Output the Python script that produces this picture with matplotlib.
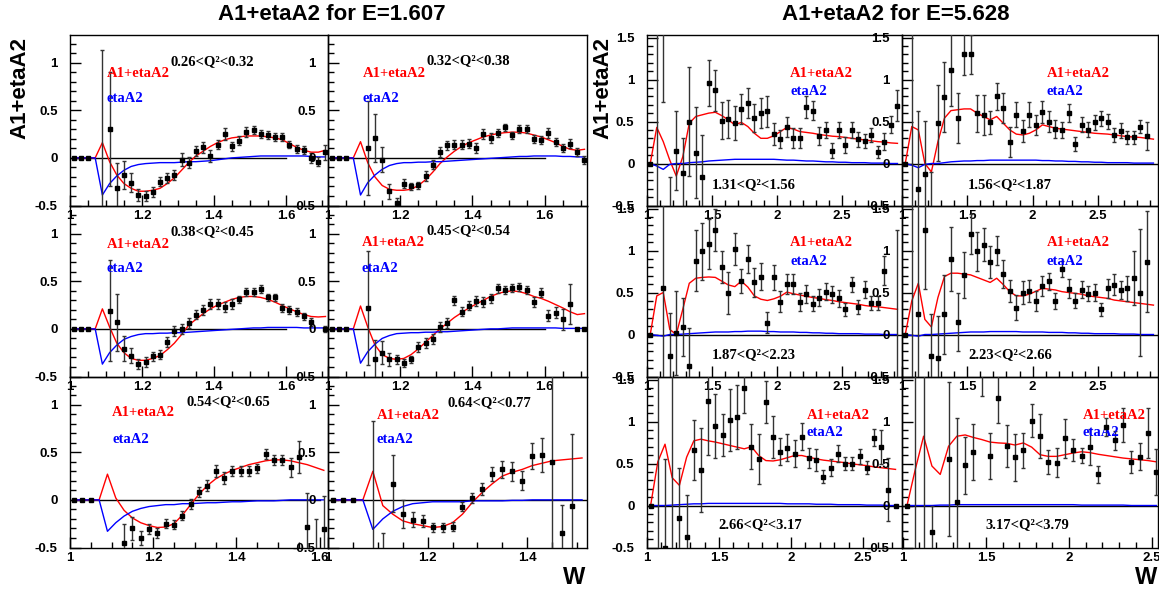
import numpy as np
import matplotlib.pyplot as plt
from matplotlib.ticker import MultipleLocator, FormatStrFormatter

plt.rcParams['font.family'] = 'Liberation Sans'
plt.rcParams['font.weight'] = 'bold'
plt.rcParams['axes.unicode_minus'] = False

nan = np.nan

# W bin centres
w_low = np.round(np.arange(1.01, 1.715, 0.02), 3)     # E = 1.607 binning
w_high = np.round(np.arange(1.025, 2.93, 0.05), 3)    # E = 5.628 binning

# ---------------- E = 1.607 ----------------
y_026 = [0, 0, 0, nan, -0.87, 0.30, -0.32, -0.18, -0.26, -0.39,
         -0.40, -0.36, -0.25, -0.21, -0.18, -0.02, -0.05, 0.07, 0.11, 0.02,
         0.14, 0.25, 0.12, 0.18, 0.27, 0.29, 0.25, 0.24, 0.22, 0.22,
         0.14, 0.09, 0.08, 0.00, -0.04, 0.06]
e_026 = [0, 0, 0, 0, 2.0, 0.60, 0.27, 0.15, 0.10, 0.06,
         0.05, 0.05, 0.05, 0.05, 0.05, 0.07, 0.06, 0.05, 0.06, 0.06,
         0.05, 0.06, 0.05, 0.05, 0.05, 0.04, 0.04, 0.04, 0.04, 0.04,
         0.04, 0.04, 0.04, 0.05, 0.05, 0.08]
fit_026 = [0, 0, 0, 0, 0.16, -0.04, -0.18, -0.27, -0.32, -0.35,
           -0.35, -0.34, -0.32, -0.27, -0.21, -0.13, -0.05, 0.02, 0.07, 0.12,
           0.16, 0.19, 0.21, 0.22, 0.23, 0.23, 0.23, 0.22, 0.21, 0.19,
           0.15, 0.11, 0.08, 0.06, 0.06, 0.08]
eta_026 = [0, 0, 0, 0, -0.39, -0.27, -0.19, -0.13, -0.09, -0.07,
           -0.06, -0.055, -0.05, -0.05, -0.05, -0.045, -0.04, -0.04, -0.035, -0.03,
           -0.02, -0.01, 0.0, 0.005, 0.01, 0.015, 0.02, 0.02, 0.02, 0.02,
           0.02, 0.02, 0.02, 0.015, 0.01, 0.01]

y_032 = [0, 0, 0, nan, nan, 0.105, 0.21, -0.02, -0.35, -0.47,
         -0.27, -0.30, -0.29, -0.19, -0.07, 0.06, 0.13, 0.14, 0.14, 0.15,
         0.105, 0.25, 0.21, 0.26, 0.32, 0.235, 0.305, 0.30, 0.20, 0.19,
         0.26, 0.165, 0.105, 0.15, 0.06, -0.02]
e_032 = [0, 0, 0, 0, 0, 0.49, 0.25, 0.13, 0.08, 0.05,
         0.05, 0.04, 0.04, 0.05, 0.05, 0.05, 0.05, 0.05, 0.05, 0.05,
         0.05, 0.05, 0.05, 0.04, 0.04, 0.04, 0.04, 0.04, 0.04, 0.04,
         0.05, 0.04, 0.04, 0.05, 0.04, 0.04]
fit_032 = [0, 0, 0, 0, 0.17, -0.05, -0.20, -0.29, -0.33, -0.34,
           -0.34, -0.33, -0.29, -0.23, -0.15, -0.06, 0.01, 0.07, 0.12, 0.16,
           0.19, 0.22, 0.24, 0.255, 0.265, 0.27, 0.27, 0.26, 0.24, 0.22,
           0.19, 0.16, 0.12, 0.09, 0.08, 0.09]
eta_032 = [0, 0, 0, 0, -0.39, -0.26, -0.18, -0.12, -0.08, -0.06,
           -0.05, -0.05, -0.045, -0.045, -0.04, -0.04, -0.035, -0.03, -0.025, -0.02,
           -0.015, -0.01, -0.005, 0.0, 0.005, 0.01, 0.015, 0.015, 0.02, 0.02,
           0.02, 0.02, 0.015, 0.015, 0.01, 0.01]

y_038 = [0, 0, 0, nan, nan, 0.19, 0.07, -0.21, -0.28, -0.37,
         -0.35, -0.29, -0.27, -0.14, -0.025, 0.0, 0.06, 0.15, 0.20, 0.26,
         0.26, 0.23, 0.26, 0.31, 0.39, 0.39, 0.42, 0.33, 0.33, 0.22,
         0.20, 0.175, 0.13, 0.07, nan, 0.0]
e_038 = [0, 0, 0, 0, 0, 0.53, 0.30, 0.13, 0.08, 0.05,
         0.05, 0.05, 0.05, 0.05, 0.05, 0.05, 0.05, 0.05, 0.05, 0.05,
         0.05, 0.05, 0.05, 0.04, 0.04, 0.04, 0.04, 0.04, 0.04, 0.04,
         0.04, 0.04, 0.04, 0.04, 0, 0.03]
fit_038 = [0, 0, 0, 0, 0.21, 0.02, -0.15, -0.25, -0.31, -0.33,
           -0.33, -0.31, -0.28, -0.22, -0.15, -0.06, 0.04, 0.10, 0.16, 0.21,
           0.25, 0.28, 0.31, 0.33, 0.34, 0.34, 0.33, 0.31, 0.28, 0.245,
           0.21, 0.18, 0.15, 0.13, 0.125, 0.13]
eta_038 = [0, 0, 0, 0, -0.37, -0.25, -0.17, -0.11, -0.08, -0.06,
           -0.05, -0.05, -0.045, -0.045, -0.04, -0.04, -0.035, -0.03, -0.025, -0.02,
           -0.015, -0.01, -0.005, 0.0, 0.005, 0.01, 0.01, 0.015, 0.015, 0.015,
           0.015, 0.015, 0.01, 0.01, 0.01, 0.01]

y_045 = [0, 0, 0, nan, nan, 0.22, -0.32, -0.25, -0.32, -0.32,
         -0.36, -0.32, -0.19, -0.15, -0.105, 0.02, 0.06, 0.30, 0.18, 0.245,
         0.29, 0.28, 0.32, 0.425, 0.41, 0.43, 0.44, 0.41, 0.28, 0.38,
         0.14, 0.17, 0.10, 0.26, 0.0, 0.0]
e_045 = [0, 0, 0, 0, 0, 0.6, 0.2, 0.12, 0.07, 0.05,
         0.04, 0.04, 0.05, 0.05, 0.05, 0.05, 0.05, 0.05, 0.05, 0.05,
         0.05, 0.05, 0.05, 0.05, 0.04, 0.04, 0.04, 0.04, 0.05, 0.05,
         0.06, 0.06, 0.11, 0.21, 0, 0]
fit_045 = [0, 0, 0, 0, 0.24, 0.02, -0.17, -0.27, -0.31, -0.32,
           -0.31, -0.27, -0.21, -0.14, -0.07, 0.0, 0.06, 0.12, 0.17, 0.22,
           0.26, 0.30, 0.34, 0.37, 0.39, 0.40, 0.39, 0.37, 0.34, 0.32,
           0.29, 0.255, 0.22, 0.18, 0.15, 0.16]
eta_045 = [0, 0, 0, 0, -0.36, -0.24, -0.16, -0.10, -0.07, -0.05,
           -0.045, -0.04, -0.04, -0.035, -0.035, -0.03, -0.03, -0.025, -0.02, -0.015,
           -0.01, -0.005, 0.0, 0.0, 0.005, 0.01, 0.01, 0.01, 0.01, 0.01,
           0.01, 0.01, 0.005, 0.005, 0.005, 0.005]

y_054 = [0, 0, 0, nan, nan, nan, -0.45, -0.30, -0.40, -0.305,
         -0.35, -0.25, -0.26, -0.165, -0.045, 0.08, 0.15, 0.305, 0.23, 0.305,
         0.305, 0.305, 0.33, 0.48, 0.42, 0.42, 0.34, 0.45, -0.28, -0.6,
         -0.31]
e_054 = [0, 0, 0, 0, 0, 0, 0.2, 0.12, 0.07, 0.05,
         0.05, 0.05, 0.05, 0.05, 0.05, 0.05, 0.06, 0.06, 0.06, 0.05,
         0.05, 0.05, 0.05, 0.05, 0.05, 0.05, 0.1, 0.17, 0.35, 0.4,
         0.35]
fit_054 = [0, 0, 0, 0, 0.27, 0.02, -0.11, -0.19, -0.24, -0.27,
           -0.29, -0.285, -0.25, -0.16, -0.05, 0.06, 0.15, 0.22, 0.27, 0.31,
           0.34, 0.37, 0.39, 0.41, 0.42, 0.42, 0.41, 0.39, 0.37, 0.34,
           0.31]
eta_054 = [0, 0, 0, 0, -0.33, -0.24, -0.17, -0.12, -0.09, -0.07,
           -0.06, -0.05, -0.05, -0.04, -0.04, -0.035, -0.03, -0.03, -0.025, -0.02,
           -0.02, -0.015, -0.01, -0.01, -0.01, -0.005, 0, 0, 0, 0,
           0]

y_064 = [0, 0, 0, nan, -0.6, -0.7, 0.17, -0.15, -0.21, -0.22,
         -0.29, -0.29, -0.28, -0.07, 0.02, 0.115, 0.27, 0.32, 0.30, 0.20,
         0.46, 0.47, 0.40, -0.35, -0.06, nan]
e_064 = [0, 0, 0, 0, 1.43, 0.35, 0.3, 0.15, 0.08, 0.06,
         0.05, 0.05, 0.05, 0.05, 0.05, 0.06, 0.07, 0.09, 0.1, 0.1,
         0.14, 0.18, 1.5, 0.3, 0.75, 0]
fit_064 = [0, 0, 0, 0, 0.30, -0.06, -0.15, -0.22, -0.25, -0.27,
           -0.29, -0.28, -0.24, -0.15, -0.025, 0.08, 0.17, 0.25, 0.29, 0.32,
           0.36, 0.385, 0.41, 0.42, 0.43, 0.44]
eta_064 = [0, 0, 0, 0, -0.31, -0.20, -0.12, -0.07, -0.04, -0.03,
           -0.02, -0.02, -0.02, -0.02, -0.01, -0.01, -0.01, -0.01, -0.005, -0.005,
           0, 0, 0, 0, 0, 0]

# ---------------- E = 5.628 ----------------
y_131 = [0, -2.5, 2.0, -1.0, 0.15, -0.11, 0.50, 0.13, -0.16, 0.96,
         0.87, 0.51, 0.53, 0.48, 0.65, 0.72, 0.54, 0.60, 0.62, 0.35,
         0.29, 0.43, 0.30, 0.30, 0.67, 0.63, 0.33, 0.40, 0.15, 0.40,
         0.22, 0.40, 0.29, 0.27, 0.34, 0.14, 0.26, 0.46, 0.69]
e_131 = [0, 5, 1.27, 0.84, 0.47, 0.41, 0.65, 0.54, 0.5, 0.27,
         0.24, 0.22, 0.23, 0.2, 0.18, 0.18, 0.17, 0.18, 0.18, 0.13,
         0.11, 0.12, 0.12, 0.12, 0.13, 0.11, 0.11, 0.1, 0.09, 0.1,
         0.09, 0.1, 0.09, 0.08, 0.08, 0.07, 0.1, 0.1, 0.18]
fit_131 = [0, 0.43, 0.26, 0.04, -0.15, 0.08, 0.48, 0.56, 0.58, 0.60,
           0.61, 0.57, 0.52, 0.46, 0.49, 0.44, 0.36, 0.30, 0.30, 0.33,
           0.38, 0.43, 0.41, 0.38, 0.37, 0.36, 0.345, 0.335, 0.325, 0.32,
           0.31, 0.30, 0.29, 0.28, 0.27, 0.26, 0.255, 0.245, 0.24]
eta_131 = [0, -0.03, -0.07, -0.01, 0, 0, 0.01, 0.015, 0.02, 0.03,
           0.035, 0.04, 0.045, 0.05, 0.05, 0.05, 0.05, 0.05, 0.05, 0.05,
           0.045, 0.04, 0.04, 0.035, 0.03, 0.03, 0.025, 0.02, 0.02, 0.015,
           0.015, 0.01, 0.01, 0.01, 0.005, 0.005, 0.005, 0, 0]

y_156 = [0, -2.5, -0.3, -0.12, -0.6, 0.48, 0.79, 1.11, 0.54, 1.30,
         1.30, 0.60, 0.58, 0.49, 0.80, 0.66, 0.26, 0.58, 0.385, 0.58,
         0.46, 0.61, 0.50, 0.41, 0.40, 0.60, 0.23, 0.46, 0.40, 0.49,
         0.54, 0.50, 0.34, 0.39, 0.31, 0.31, 0.44, 0.33, nan]
e_156 = [0, 5, 0.92, 0.63, 0.5, 0.45, 0.42, 0.43, 0.3, 0.25,
         0.23, 0.22, 0.24, 0.14, 0.16, 0.18, 0.18, 0.15, 0.13, 0.15,
         0.12, 0.13, 0.12, 0.11, 0.1, 0.11, 0.08, 0.09, 0.09, 0.09,
         0.09, 0.09, 0.08, 0.09, 0.08, 0.08, 0.08, 0.17, 0]
fit_156 = [0, 0.44, 0.40, 0.0, -0.10, 0.26, 0.54, 0.63, 0.64, 0.65,
           0.65, 0.60, 0.56, 0.52, 0.56, 0.48, 0.40, 0.35, 0.34, 0.36,
           0.40, 0.46, 0.44, 0.42, 0.41, 0.40, 0.39, 0.38, 0.37, 0.36,
           0.355, 0.35, 0.34, 0.33, 0.32, 0.315, 0.31, 0.30, 0.29]
eta_156 = [0, -0.02, -0.05, -0.01, 0, 0, 0.01, 0.02, 0.025, 0.03,
           0.03, 0.035, 0.035, 0.04, 0.04, 0.04, 0.04, 0.04, 0.04, 0.04,
           0.04, 0.035, 0.035, 0.03, 0.03, 0.025, 0.025, 0.02, 0.02, 0.015,
           0.015, 0.01, 0.01, 0.01, 0.01, 0.005, 0.005, 0.005, 0.005]

y_187 = [0, nan, 0.55, -0.26, 0.02, 0.09, -0.37, 0.88, 0.99, 1.08,
         1.24, 0.80, 0.50, 1.02, 0.635, 0.90, 0.62, 0.69, 0.14, 0.68,
         0.39, 0.60, 0.60, 0.39, 0.48, 0.365, 0.44, 0.51, 0.48, 0.43,
         0.30, 0.60, 0.325, 0.535, 0.375, 0.375, 0.76, nan, -0.6]
e_187 = [0, 0, 3.0, 0.52, 0.5, 0.35, 0.45, 0.36, 0.34, 0.3,
         0.25, 0.19, 0.25, 0.19, 0.14, 0.17, 0.17, 0.16, 0.125, 0.15,
         0.125, 0.12, 0.12, 0.11, 0.11, 0.09, 0.1, 0.1, 0.1, 0.1,
         0.08, 0.09, 0.085, 0.1, 0.08, 0.08, 0.17, 0, 1.85]
fit_187 = [0, 0.46, 0.50, 0.06, 0.0, 0.30, 0.61, 0.67, 0.68, 0.685,
           0.68, 0.635, 0.59, 0.57, 0.635, 0.565, 0.46, 0.42, 0.405, 0.425,
           0.455, 0.505, 0.485, 0.47, 0.455, 0.44, 0.43, 0.415, 0.405, 0.39,
           0.38, 0.37, 0.36, 0.345, 0.335, 0.33, 0.32, 0.31, 0.30]
eta_187 = [0, -0.01, -0.02, 0, 0, 0.005, 0.01, 0.015, 0.02, 0.025,
           0.03, 0.03, 0.03, 0.035, 0.035, 0.04, 0.04, 0.04, 0.035, 0.035,
           0.03, 0.03, 0.03, 0.025, 0.025, 0.02, 0.02, 0.015, 0.015, 0.01,
           0.01, 0.01, 0.01, 0.005, 0.005, 0.005, 0, 0, 0]

y_223 = [0, -2.5, 0.25, 1.24, -0.25, -0.28, 0.24, 0.90, 0.15, 0.71,
         1.20, 0.99, 1.07, 0.865, 1.00, 0.72, 0.52, 0.32, 0.50, 0.52,
         0.40, 0.575, 0.635, 0.40, 0.78, 0.545, 0.40, 0.535, 0.485, 0.50,
         0.30, 0.55, 0.595, 0.53, 0.55, 0.675, 0.50, 0.865, nan]
e_223 = [0, 5, 2.0, 0.7, 0.5, 0.5, 0.47, 0.38, 0.35, 0.27,
         0.24, 0.23, 0.2, 0.19, 0.17, 0.17, 0.13, 0.145, 0.14, 0.13,
         0.12, 0.12, 0.1, 0.1, 0.1, 0.11, 0.09, 0.1, 0.09, 0.1,
         0.08, 0.11, 0.12, 0.11, 0.15, 0.32, 0.76, 0.6, 0]
fit_223 = [0, 0.40, 0.61, 0.18, 0.09, 0.44, 0.69, 0.73, 0.73, 0.72,
           0.71, 0.68, 0.65, 0.62, 0.67, 0.595, 0.51, 0.46, 0.46, 0.48,
           0.515, 0.55, 0.54, 0.53, 0.51, 0.50, 0.49, 0.48, 0.46, 0.45,
           0.44, 0.43, 0.41, 0.40, 0.39, 0.38, 0.37, 0.36, 0.35]
eta_223 = [0, -0.01, -0.02, 0, 0, 0.005, 0.01, 0.015, 0.02, 0.025,
           0.03, 0.03, 0.03, 0.035, 0.035, 0.035, 0.035, 0.035, 0.03, 0.03,
           0.03, 0.03, 0.025, 0.025, 0.025, 0.02, 0.02, 0.015, 0.015, 0.01,
           0.01, 0.01, 0.01, 0.005, 0.005, 0.005, 0, 0, 0]

y_266 = [0, -2.5, -0.5, -2.5, -0.15, -0.37, 0.66, 0.42, 1.25, 0.95,
         0.845, 1.02, 1.05, 1.40, 0.70, 0.555, 1.23, 0.81, 0.64, 0.69,
         0.615, 0.82, 0.57, 0.54, 0.345, 0.45, 0.615, 0.50, 0.50, 0.585,
         0.45, 0.805, 0.695, 0.19, 0.0]
e_266 = [0, 5, 1.05, 5, 0.6, 0.5, 0.36, 0.5, 0.65, 0.38,
         0.25, 0.37, 0.38, 0.3, 0.27, 0.3, 0.25, 0.25, 0.16, 0.16,
         0.16, 0.16, 0.12, 0.13, 0.08, 0.1, 0.1, 0.08, 0.08, 0.09,
         0.08, 0.1, 0.2, 0.38, 0]
fit_266 = [0, 0.52, 0.73, 0.33, 0.24, 0.575, 0.77, 0.79, 0.77, 0.755,
           0.735, 0.715, 0.695, 0.675, 0.70, 0.595, 0.535, 0.53, 0.545, 0.57,
           0.595, 0.595, 0.575, 0.555, 0.54, 0.53, 0.52, 0.51, 0.495, 0.485,
           0.475, 0.46, 0.45, 0.44, 0.43]
eta_266 = [0, 0, 0, 0.005, 0.01, 0.015, 0.02, 0.02, 0.025, 0.025,
           0.025, 0.025, 0.025, 0.025, 0.025, 0.025, 0.025, 0.025, 0.025, 0.02,
           0.02, 0.02, 0.02, 0.015, 0.015, 0.015, 0.01, 0.01, 0.01, 0.01,
           0.005, 0.005, 0.005, 0, 0]

y_317 = [0, -2.5, -2.5, -0.31, nan, 0.555, 0.04, 0.48, 0.635, 1.7,
         0.59, 1.28, 0.71, 0.575, 0.655, 1.01, 0.83, 0.515, 0.51, 0.80,
         0.66, 0.595, 0.695, 0.37, 0.935, 0.775, 0.955, 0.515, 0.58, 0.865,
         0.40]
e_317 = [0, 5, 5, 0.3, 0, 0.92, 1.0, 0.34, 0.33, 0.4,
         0.27, 0.3, 0.25, 0.28, 0.21, 0.2, 0.26, 0.14, 0.17, 0.23,
         0.13, 0.09, 0.21, 0.1, 0.11, 0.11, 0.2, 0.13, 0.16, 0.3,
         0.27]
fit_317 = [0, 0.43, 0.825, 0.47, 0.37, 0.705, 0.825, 0.84, 0.81, 0.785,
           0.755, 0.745, 0.74, 0.72, 0.745, 0.695, 0.605, 0.585, 0.585, 0.605,
           0.625, 0.64, 0.63, 0.61, 0.595, 0.58, 0.565, 0.555, 0.545, 0.535,
           0.52]
eta_317 = [0, 0, 0, 0, 0.005, 0.005, 0.01, 0.01, 0.01, 0.01,
           0.01, 0.01, 0.01, 0.01, 0.01, 0.01, 0.01, 0.01, 0.01, 0.01,
           0.01, 0.005, 0.005, 0.005, 0.005, 0.005, 0.005, 0, 0, 0,
           0]

FW, FH = 1159, 594
fig = plt.figure(figsize=(FW / 100, FH / 100), dpi=100)

ROWS = [35, 206, 377]
ROW_H = 170.5


def make_axes(x0, y0, w):
    return fig.add_axes([x0 / FW, 1 - (y0 + ROW_H) / FH, w / FW, ROW_H / FH])


def draw(ax, w, y, e, fit, eta, qlab, xlim, ylim, xmaj, xmin, zero_end,
         tx, ty_red, ty_blue, qx, qy):
    ax.set_facecolor('none')
    n = len(y)
    ax.plot([xlim[0], zero_end], [0, 0], color='k', lw=1, zorder=1)
    ax.plot(w[:n], fit, color='red', lw=1, zorder=2)
    ax.plot(w[:n], eta, color='blue', lw=1, zorder=2)
    ax.errorbar(w[:n], y, yerr=e, fmt='s', ms=3.5, mfc='k', mec='k',
                ecolor='0.2', elinewidth=1, capsize=1.5, capthick=1, zorder=3)
    ax.set_xlim(*xlim)
    ax.set_ylim(*ylim)
    ax.xaxis.set_major_locator(MultipleLocator(xmaj))
    ax.xaxis.set_minor_locator(MultipleLocator(xmin))
    ax.yaxis.set_major_locator(MultipleLocator(0.5))
    ax.yaxis.set_minor_locator(MultipleLocator(0.1))
    ax.xaxis.set_major_formatter(FormatStrFormatter('%g'))
    ax.yaxis.set_major_formatter(FormatStrFormatter('%g'))
    ax.tick_params(which='both', direction='in', top=False, right=False,
                   labelsize=9.5, width=1)
    ax.tick_params(which='major', length=8)
    ax.tick_params(which='minor', length=4)
    ax.tick_params(axis='y', pad=9)
    ax.tick_params(axis='x', pad=3)
    for s in ax.spines.values():
        s.set_linewidth(1)
    tf = dict(transform=ax.transAxes, family='Liberation Serif',
              weight='bold', fontsize=10.5, va='center', ha='left')
    ax.text(tx, ty_red, 'A1+etaA2', color='red', **tf)
    ax.text(tx, ty_blue, 'etaA2', color='blue', **tf)
    ax.text(qx, qy, qlab, color='k', **tf)


LOW_Y = (-0.5, 1.29)
HIGH_Y = (-0.5, 1.53)

# left block, E = 1.607
draw(make_axes(70, ROWS[0], 258), w_low, y_026, e_026, fit_026, eta_026,
     '0.26<Q²<0.32', (1.0, 1.717), LOW_Y, 0.2, 0.05, 1.6,
     0.143, 0.777, 0.63, 0.388, 0.842)
draw(make_axes(328, ROWS[0], 259), w_low, y_032, e_032, fit_032, eta_032,
     '0.32<Q²<0.38', (1.0, 1.717), LOW_Y, 0.2, 0.05, 1.6,
     0.135, 0.777, 0.63, 0.382, 0.848)
draw(make_axes(70, ROWS[1], 258), w_low, y_038, e_038, fit_038, eta_038,
     '0.38<Q²<0.45', (1.0, 1.717), LOW_Y, 0.2, 0.05, 1.6,
     0.143, 0.777, 0.636, 0.388, 0.848)
draw(make_axes(328, ROWS[1], 259), w_low, y_045, e_045, fit_045, eta_045,
     '0.45<Q²<0.54', (1.0, 1.717), LOW_Y, 0.2, 0.05, 1.6,
     0.131, 0.783, 0.636, 0.382, 0.853)
draw(make_axes(70, ROWS[2], 258), w_low, y_054, e_054, fit_054, eta_054,
     '0.54<Q²<0.65', (1.0, 1.62), LOW_Y, 0.2, 0.05, 1.6,
     0.163, 0.789, 0.636, 0.453, 0.853)
draw(make_axes(328, ROWS[2], 259), w_low, y_064, e_064, fit_064, eta_064,
     '0.64<Q²<0.77', (1.0, 1.52), LOW_Y, 0.2, 0.05, 1.52,
     0.189, 0.777, 0.636, 0.463, 0.848)

# right block, E = 5.628
draw(make_axes(647, ROWS[0], 255), w_high, y_131, e_131, fit_131, eta_131,
     '1.31<Q²<1.56', (1.0, 2.96), HIGH_Y, 0.5, 0.1, 2.96,
     0.561, 0.777, 0.666, 0.255, 0.12)
draw(make_axes(902, ROWS[0], 256), w_high, y_156, e_156, fit_156, eta_156,
     '1.56<Q²<1.87', (1.0, 2.96), HIGH_Y, 0.5, 0.1, 2.96,
     0.566, 0.777, 0.666, 0.258, 0.12)
draw(make_axes(647, ROWS[1], 255), w_high, y_187, e_187, fit_187, eta_187,
     '1.87<Q²<2.23', (1.0, 2.96), HIGH_Y, 0.5, 0.1, 2.96,
     0.561, 0.783, 0.672, 0.255, 0.126)
draw(make_axes(902, ROWS[1], 256), w_high, y_223, e_223, fit_223, eta_223,
     '2.23<Q²<2.66', (1.0, 2.96), HIGH_Y, 0.5, 0.1, 2.96,
     0.566, 0.783, 0.672, 0.258, 0.126)
draw(make_axes(647, ROWS[2], 255), w_high, y_266, e_266, fit_266, eta_266,
     '2.66<Q²<3.17', (1.0, 2.77), HIGH_Y, 0.5, 0.1, 2.77,
     0.627, 0.777, 0.677, 0.278, 0.132)
draw(make_axes(902, ROWS[2], 256), w_high, y_317, e_317, fit_317, eta_317,
     '3.17<Q²<3.79', (0.995, 2.535), HIGH_Y, 0.5, 0.1, 2.535,
     0.707, 0.777, 0.677, 0.324, 0.132)

# titles and axis captions
fig.text(332 / FW, 1 - 15 / FH, 'A1+etaA2 for E=1.607', ha='center', va='center', fontsize=16)
fig.text(896 / FW, 1 - 15 / FH, 'A1+etaA2 for E=5.628', ha='center', va='center', fontsize=16)
fig.text(20 / FW, 1 - 37 / FH, 'A1+etaA2', rotation=90, ha='center', va='top', fontsize=16)
fig.text(603 / FW, 1 - 37 / FH, 'A1+etaA2', rotation=90, ha='center', va='top', fontsize=16)
fig.text(585 / FW, 1 - 578 / FH, 'W', ha='right', va='center', fontsize=17)
fig.text(1157 / FW, 1 - 578 / FH, 'W', ha='right', va='center', fontsize=17)

fig.savefig('out.png', dpi=100)
